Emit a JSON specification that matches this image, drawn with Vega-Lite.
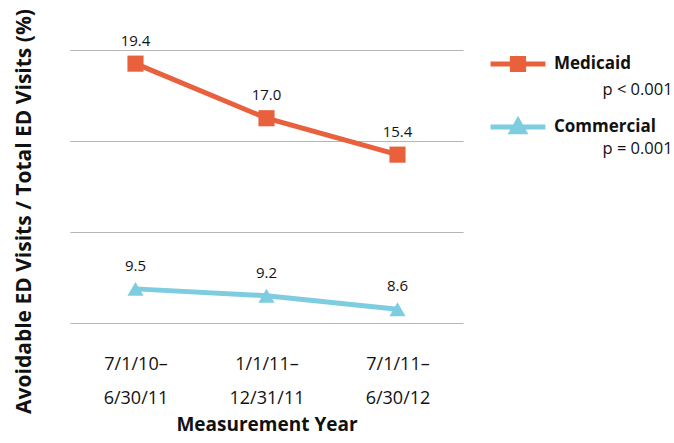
{
  "$schema": "https://vega.github.io/schema/vega-lite/v6.json",
  "width": 393,
  "height": 273,
  "autosize": {"type": "none"},
  "padding": {"left": 70, "top": 50, "right": 211, "bottom": 120},
  "background": "white",
  "config": {
    "view": {"stroke": null},
    "font": "Open Sans",
    "text": {"font": "Open Sans"}
  },
  "data": {
    "values": [
      {"period": "7/1/10–|6/30/11", "series": "Medicaid", "pval": "p < 0.001", "value": 19.4},
      {"period": "1/1/11–|12/31/11", "series": "Medicaid", "pval": "p < 0.001", "value": 17.0},
      {"period": "7/1/11–|6/30/12", "series": "Medicaid", "pval": "p < 0.001", "value": 15.4},
      {"period": "7/1/10–|6/30/11", "series": "Commercial", "pval": "p = 0.001", "value": 9.5},
      {"period": "1/1/11–|12/31/11", "series": "Commercial", "pval": "p = 0.001", "value": 9.2},
      {"period": "7/1/11–|6/30/12", "series": "Commercial", "pval": "p = 0.001", "value": 8.6}
    ]
  },
  "encoding": {
    "x": {
      "field": "period",
      "type": "ordinal",
      "sort": null,
      "scale": {"type": "point", "padding": 0.5},
      "axis": {
        "title": "Measurement Year",
        "titleFontSize": 19,
        "titleFontWeight": "bold",
        "titleColor": "#111",
        "titlePadding": 8,
        "labelExpr": "split(datum.label, '|')",
        "labelFontSize": 18,
        "labelColor": "#111",
        "labelLineHeight": 34,
        "labelPadding": 32,
        "labelAngle": 0,
        "domain": false,
        "ticks": false,
        "grid": false
      }
    },
    "y": {
      "field": "value",
      "type": "quantitative",
      "scale": {"domain": [8, 20], "nice": false, "zero": false},
      "axis": {
        "title": "Avoidable ED Visits / Total ED Visits (%)",
        "titleFontSize": 21,
        "titleFontWeight": "bold",
        "titleColor": "#111",
        "titleAngle": -90,
        "titleAlign": "center",
        "titleBaseline": "middle",
        "titleX": -46,
        "titleY": 161,
        "values": [8, 12, 16, 20],
        "labels": false,
        "ticks": false,
        "domain": false,
        "grid": true,
        "gridColor": "#b5b5b5",
        "gridWidth": 1.2
      }
    }
  },
  "layer": [
    {
      "mark": {"type": "line", "strokeWidth": 5},
      "encoding": {
        "color": {
          "field": "series",
          "type": "nominal",
          "sort": ["Medicaid", "Commercial"],
          "scale": {"domain": ["Medicaid", "Commercial"], "range": ["#E8603C", "#7ECCE0"]},
          "legend": {
            "title": null,
            "orient": "none",
            "legendX": 420,
            "legendY": -14,
            "padding": 0,
            "symbolSize": 3136,
            "symbolType": "square",
            "labelFontSize": 17,
            "labelFontWeight": "bold",
            "labelColor": "#111",
            "labelOffset": 8,
            "rowPadding": 26,
            "encode": {
              "symbols": {
                "update": {
                  "shape": {"signal": "datum.value === 'Medicaid' ? 'M-0.98,-0.09H0.98V0.09H-0.98Z M-0.29,-0.29H0.29V0.29H-0.29Z' : 'M-0.98,-0.09H0.98V0.09H-0.98Z M0,-0.4L0.37,0.26H-0.37Z'"},
                  "fill": {"scale": "color", "field": "value"},
                  "stroke": {"value": "transparent"},
                  "strokeWidth": {"value": 0},
                  "opacity": {"value": 1},
                  "fillOpacity": {"value": 1}
                }
              }
            }
          }
        }
      }
    },
    {
      "mark": {"type": "point", "filled": true, "opacity": 1, "size": 260},
      "encoding": {
        "color": {"field": "series", "type": "nominal", "legend": null},
        "shape": {
          "field": "pval",
          "type": "nominal",
          "scale": {"domain": ["p < 0.001", "p = 0.001"], "range": ["square", "triangle-up"]},
          "legend": {
            "title": null,
            "orient": "none",
            "legendX": 516,
            "legendY": 32,
            "padding": 0,
            "symbolSize": 1,
            "symbolOpacity": 0,
            "labelOffset": 0,
            "labelFontSize": 16.5,
            "labelColor": "#111",
            "rowPadding": 42
          }
        }
      }
    },
    {
      "mark": {"type": "text", "dy": -23, "fontSize": 15, "color": "#111"},
      "encoding": {"text": {"field": "value", "type": "quantitative", "format": ".1f"}}
    }
  ]
}
